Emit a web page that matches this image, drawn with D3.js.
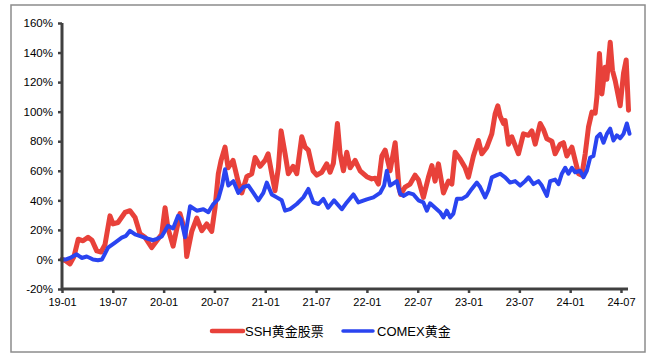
<!DOCTYPE html>
<html><head><meta charset="utf-8">
<script src="https://cdn.jsdelivr.net/npm/d3@7"></script>
<style>
html,body{margin:0;padding:0;background:#fff;}
svg{display:block;}
</style></head>
<body>
<svg id="chart" width="652" height="356"></svg>
<script>
// decimal-year time stamps and cumulative returns (%)
const sshTimes = [2019.000,2019.039,2019.079,2019.118,2019.160,2019.207,2019.256,2019.295,2019.342,2019.384,2019.423,2019.472,2019.502,2019.551,2019.620,2019.669,2019.719,2019.768,2019.817,2019.883,2019.932,2019.981,
2020.014,2020.043,2020.093,2020.161,2020.211,2020.227,2020.277,2020.326,2020.375,2020.424,2020.473,2020.506,2020.538,2020.565,2020.604,2020.634,2020.683,2020.732,2020.769,2020.818,2020.867,2020.900,2020.949,2020.998,
2021.028,2021.064,2021.096,2021.129,2021.156,2021.195,2021.227,2021.274,2021.310,2021.359,2021.392,2021.424,2021.470,2021.507,2021.556,2021.605,2021.638,2021.670,2021.710,2021.736,2021.769,2021.802,2021.835,2021.884,2021.933,2021.999,
2022.048,2022.081,2022.113,2022.147,2022.180,2022.228,2022.278,2022.317,2022.332,2022.376,2022.425,2022.474,2022.507,2022.556,2022.605,2022.639,2022.671,2022.704,2022.753,2022.802,2022.836,2022.868,2022.917,2022.967,2022.999,
2023.048,2023.097,2023.131,2023.180,2023.229,2023.262,2023.288,2023.311,2023.344,2023.360,2023.393,2023.426,2023.459,2023.491,2023.540,2023.590,2023.623,2023.656,2023.705,2023.737,2023.771,2023.820,2023.852,2023.902,2023.934,2023.967,
2024.017,2024.049,2024.082,2024.115,2024.148,2024.180,2024.214,2024.246,2024.263,2024.288,2024.312,2024.344,2024.361,2024.394,2024.416,2024.443,2024.475,2024.492,2024.525,2024.551,2024.574];
const sshValues = [0,-1,-3,2,13.7,12.6,15,13,5.8,5,10,29.5,24,25,31.8,33,28.4,17.3,15,8,12.6,17,
35,21,9,31,19,2,19,28,19.5,24,19,35,58,67,76,62,67,53,45,56,58,69,63,67,
71.5,58,46.5,62,87,71.5,58,63,58,83,76,74,60,57,59,64.7,59,65,92,71.5,60,72.5,62,67,60,56,
54.5,55,51,70,74,60,79,48,44,49,51,57,54,42,55.6,63.5,53,64.7,45,53,51,72.5,68,62,55.6,
70,80.5,71.5,76,85,98.6,104,97,92,94,78,83,77,71.5,85,84,87,78,92,88,81.6,80,71.5,78,79,70,
76,67,58,57,71.5,89.5,99.7,99,110,139.4,112,130,122,147,128,121,110,104,126,135,101];

const comexTimes = [2019.000,2019.039,2019.079,2019.145,2019.194,2019.243,2019.276,2019.305,2019.354,2019.394,2019.453,2019.522,2019.588,2019.630,2019.669,2019.719,2019.784,2019.846,2019.896,2019.935,2019.981,
2020.043,2020.093,2020.142,2020.171,2020.211,2020.260,2020.326,2020.391,2020.440,2020.489,2020.538,2020.575,2020.604,2020.637,2020.686,2020.735,2020.784,2020.834,2020.883,2020.932,2020.981,
2021.015,2021.064,2021.113,2021.162,2021.195,2021.244,2021.310,2021.375,2021.424,2021.473,2021.523,2021.572,2021.618,2021.677,2021.753,2021.802,2021.867,2021.916,2021.999,
2022.064,2022.130,2022.169,2022.196,2022.228,2022.294,2022.327,2022.359,2022.409,2022.458,2022.507,2022.556,2022.590,2022.622,2022.671,2022.720,2022.753,2022.786,2022.819,2022.851,2022.885,2022.934,2022.983,
2023.032,2023.082,2023.114,2023.163,2023.196,2023.229,2023.278,2023.311,2023.360,2023.409,2023.459,2023.508,2023.557,2023.590,2023.639,2023.688,2023.721,2023.771,2023.803,2023.852,2023.885,2023.918,2023.951,2023.983,
2024.017,2024.049,2024.098,2024.131,2024.164,2024.197,2024.229,2024.263,2024.295,2024.328,2024.361,2024.394,2024.426,2024.459,2024.492,2024.525,2024.558,2024.584];
const comexValues = [0,0,1,3.5,1,2,1,0,-0.5,0,8,11.4,14.8,16,19.4,17,15.5,14,13,14,15.5,
22.8,21,29.5,27,15,36,33,34,32,37.5,41,50,61,50,53,45,49,50,45,40,45,
52,44,42,40,33,34,37.5,42,47.7,38.6,37.5,41,35,40,34,38.6,44,38.6,40.7,
42,45,50,60,50,53,44.5,43,45,44,40,38.6,33,38,35,32,28.4,33,28.4,31,41,41,43,
47.7,52,49,42,47,55.6,57,58,55.6,52,53,50,53,55.6,51,53,50,43,53,54,51,58,62,58,
62,59,60,55.6,60,69,70,82.8,85,79,85,88.5,80.5,84,82,85,92,85];

const xTickValues = [2019,2019.5,2020,2020.5,2021,2021.5,2022,2022.5,2023,2023.5,2024,2024.5];
const xTickLabels = ["19-01","19-07","20-01","20-07","21-01","21-07","22-01","22-07","23-01","23-07","24-01","24-07"];
const yTickValues = [-20,0,20,40,60,80,100,120,140,160];
const seriesNames = ["SSH黄金股票","COMEX黄金"];
const seriesColors = ["#e8413a","#2a44f0"];

const svg = d3.select("#chart");
svg.append("rect").attr("x",11).attr("y",5).attr("width",634).attr("height",347)
  .attr("fill","#fff").attr("stroke","#8c8c8c").attr("stroke-width",1.5);

const x = d3.scaleLinear().domain([2019, 2024.569]).range([62, 628]);
const y = d3.scaleLinear().domain([-20, 160]).range([289, 23]);

const line = d3.line().x(d => x(d[0])).y(d => y(d[1])).curve(d3.curveLinear);
const ssh = sshTimes.map((t,i) => [t, sshValues[i]]);
const comex = comexTimes.map((t,i) => [t, comexValues[i]]);

svg.append("path").datum(ssh).attr("d", line).attr("fill","none")
  .attr("stroke",seriesColors[0]).attr("stroke-width",5).attr("stroke-linejoin","round").attr("stroke-linecap","round");
svg.append("path").datum(comex).attr("d", line).attr("fill","none")
  .attr("stroke",seriesColors[1]).attr("stroke-width",4).attr("stroke-linejoin","round").attr("stroke-linecap","round");

// y axis
const yAxis = d3.axisLeft(y).tickValues(yTickValues).tickSize(4).tickPadding(5).tickFormat(d => d + "%");
const gy = svg.append("g").attr("transform","translate(62,0)").call(yAxis);
gy.select(".domain").attr("stroke","#404040").attr("stroke-width",3).attr("d","M0,23V289");
gy.selectAll(".tick line").attr("stroke","#404040").attr("stroke-width",2.5);
gy.selectAll(".tick text").attr("font-family","'Liberation Sans', Arial, sans-serif").attr("font-size",11.5).attr("fill","#000");

// x axis
const xAxis = d3.axisBottom(x).tickValues(xTickValues).tickSize(4).tickPadding(5)
  .tickFormat((d,i) => xTickLabels[i]);
const gx = svg.append("g").attr("transform","translate(0,289)").call(xAxis);
gx.select(".domain").attr("stroke","#404040").attr("stroke-width",3).attr("d","M61,0H628");
gx.selectAll(".tick line").attr("stroke","#404040").attr("stroke-width",2.5);
gx.selectAll(".tick text").attr("font-family","'Liberation Sans', Arial, sans-serif").attr("font-size",11).attr("fill","#000");

// legend
const legendItems = [{x1:212,x2:243,tx:245},{x1:343,x2:373,tx:377}];
legendItems.forEach((it,i) => {
  svg.append("line").attr("x1",it.x1).attr("x2",it.x2).attr("y1",331).attr("y2",331)
    .attr("stroke",seriesColors[i]).attr("stroke-width",i===0?4.5:3.5).attr("stroke-linecap","round");
  svg.append("text").attr("x",it.tx).attr("y",336).text(seriesNames[i])
    .attr("font-family","'Liberation Sans', 'Noto Sans CJK SC', sans-serif").attr("font-size",13).attr("fill","#000");
});
</script>
</body></html>
